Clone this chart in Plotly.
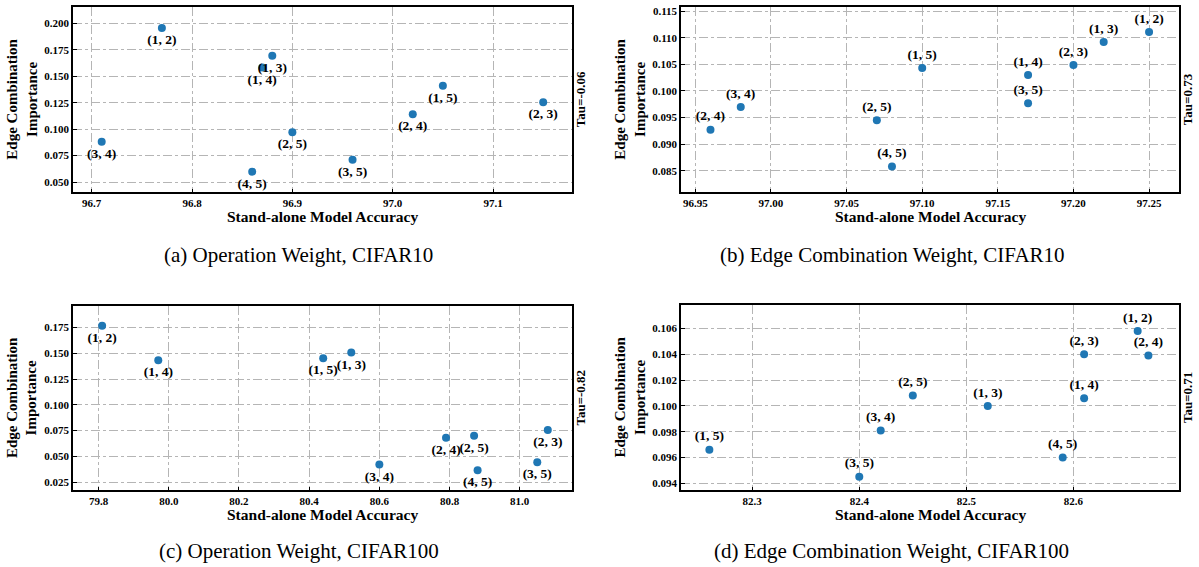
import plotly.graph_objects as go

labels_a = ["(1, 2)", "(1, 3)", "(1, 4)", "(1, 5)", "(2, 3)", "(2, 4)", "(2, 5)", "(3, 4)", "(3, 5)", "(4, 5)"]
acc_a = [96.77, 96.88, 96.87, 97.05, 97.15, 97.02, 96.90, 96.71, 96.96, 96.86]
imp_a = [0.1956, 0.1695, 0.1584, 0.1410, 0.1254, 0.1142, 0.0970, 0.0880, 0.0712, 0.0598]

labels_b = ["(1, 2)", "(1, 3)", "(1, 4)", "(1, 5)", "(2, 3)", "(2, 4)", "(2, 5)", "(3, 4)", "(3, 5)", "(4, 5)"]
acc_b = [97.25, 97.22, 97.17, 97.10, 97.20, 96.96, 97.07, 96.98, 97.17, 97.08]
imp_b = [0.1111, 0.1092, 0.1030, 0.1043, 0.1049, 0.0927, 0.0945, 0.0970, 0.0977, 0.0858]

labels_c = ["(1, 2)", "(1, 3)", "(1, 4)", "(1, 5)", "(2, 3)", "(2, 4)", "(2, 5)", "(3, 4)", "(3, 5)", "(4, 5)"]
acc_c = [79.81, 80.52, 79.97, 80.44, 81.08, 80.79, 80.87, 80.60, 81.05, 80.88]
imp_c = [0.1768, 0.1508, 0.1432, 0.1452, 0.0756, 0.0680, 0.0700, 0.0420, 0.0441, 0.0365]

labels_d = ["(1, 2)", "(1, 3)", "(1, 4)", "(1, 5)", "(2, 3)", "(2, 4)", "(2, 5)", "(3, 4)", "(3, 5)", "(4, 5)"]
acc_d = [82.66, 82.52, 82.61, 82.26, 82.61, 82.67, 82.45, 82.42, 82.40, 82.59]
imp_d = [0.1058, 0.1000, 0.1006, 0.0966, 0.1040, 0.1039, 0.1008, 0.0981, 0.0945, 0.0960]

taus = ["Tau=-0.06", "Tau=0.73", "Tau=-0.82", "Tau=0.71"]
captions = ["(a) Operation Weight, CIFAR10", "(b) Edge Combination Weight, CIFAR10",
            "(c) Operation Weight, CIFAR100", "(d) Edge Combination Weight, CIFAR100"]

W, H = 1199, 567
serif = "Liberation Serif, Times New Roman, serif"
color = "#1f77b4"

panels = [
    dict(x=acc_a, y=imp_a, t=labels_a, pos="bottom center",
         px=(73, 572), py=(5, 191), xr=(96.6814, 97.1787), yr=(0.0403, 0.2155),
         xt=(96.7, 0.1, ".1f"), yt=(0.05, 0.025, ".3f"), cap=(298, 254)),
    dict(x=acc_b, y=imp_b, t=labels_b, pos="top center",
         px=(681, 1179), py=(5, 191), xr=(96.9405, 97.2698), yr=(0.08093, 0.1158),
         xt=(96.95, 0.05, ".2f"), yt=(0.085, 0.005, ".3f"), cap=(892, 254)),
    dict(x=acc_c, y=imp_c, t=labels_c, pos="bottom center",
         px=(73, 572), py=(305, 490), xr=(79.727, 81.149), yr=(0.017, 0.196),
         xt=(79.8, 0.2, ".1f"), yt=(0.025, 0.025, ".3f"), cap=(299, 551)),
    dict(x=acc_d, y=imp_d, t=labels_d, pos="top center",
         px=(681, 1179), py=(304, 490), xr=(82.2335, 82.6986), yr=(0.09346, 0.10783),
         xt=(82.3, 0.1, ".1f"), yt=(0.094, 0.002, ".3f"), cap=(891, 551)),
]

fig = go.Figure()
layout = dict(width=W, height=H, margin=dict(l=0, r=0, t=0, b=0),
              paper_bgcolor="white", plot_bgcolor="white", showlegend=False,
              font=dict(family=serif, color="black"))
annotations = []

for i, p in enumerate(panels):
    n = "" if i == 0 else str(i + 1)
    fig.add_trace(go.Scatter(
        x=p["x"], y=p["y"], text=p["t"], mode="markers+text",
        textposition=p["pos"],
        textfont=dict(family=serif, size=13.5, color="black", weight="bold"),
        marker=dict(color=color, size=8),
        xaxis="x" + n, yaxis="y" + n, cliponaxis=False))
    x0, x1 = p["px"][0] / W, p["px"][1] / W
    y0, y1 = 1 - p["py"][1] / H, 1 - p["py"][0] / H
    common = dict(showline=True, linecolor="black", linewidth=1.5, mirror=True,
                  ticks="inside", ticklen=4, tickwidth=1, tickcolor="black",
                  showgrid=True, gridcolor="#b5b5b5", gridwidth=1, griddash="dashdot",
                  zeroline=False,
                  tickfont=dict(family=serif, size=11, color="black", weight="bold"))
    layout["xaxis" + n] = dict(common, domain=[x0, x1], range=list(p["xr"]),
                               anchor="y" + n, tick0=p["xt"][0], dtick=p["xt"][1],
                               tickformat=p["xt"][2])
    layout["yaxis" + n] = dict(common, domain=[y0, y1], range=list(p["yr"]),
                               anchor="x" + n, tick0=p["yt"][0], dtick=p["yt"][1],
                               tickformat=p["yt"][2])
    cx = (p["px"][0] + p["px"][1]) / 2
    cy = (p["py"][0] + p["py"][1]) / 2
    annotations.append(dict(text="<b>Stand-alone Model Accuracy</b>", x=cx / W, y=1 - (p["py"][1] + 24) / H,
                            xref="paper", yref="paper", showarrow=False, xanchor="center", yanchor="middle",
                            font=dict(family=serif, size=15.5, color="black")))
    annotations.append(dict(text="<b>Edge Combination<br>Importance</b>", x=(p["px"][0] - 51) / W, y=1 - cy / H,
                            xref="paper", yref="paper", showarrow=False, xanchor="center", yanchor="middle",
                            textangle=-90,
                            font=dict(family=serif, size=15, color="black")))
    annotations.append(dict(text="<b>" + taus[i] + "</b>", x=(p["px"][1] + 8.5) / W, y=1 - cy / H,
                            xref="paper", yref="paper", showarrow=False, xanchor="center", yanchor="middle",
                            textangle=-90,
                            font=dict(family=serif, size=13, color="black")))
    annotations.append(dict(text=captions[i], x=p["cap"][0] / W, y=1 - p["cap"][1] / H,
                            xref="paper", yref="paper", showarrow=False, xanchor="center", yanchor="middle",
                            font=dict(family=serif, size=21, color="black")))

layout["annotations"] = annotations
fig.update_layout(**layout)
fig.write_html("out.html", config={"displayModeBar": False},
               post_script="document.body.style.margin='0';document.body.style.overflow='hidden';")
